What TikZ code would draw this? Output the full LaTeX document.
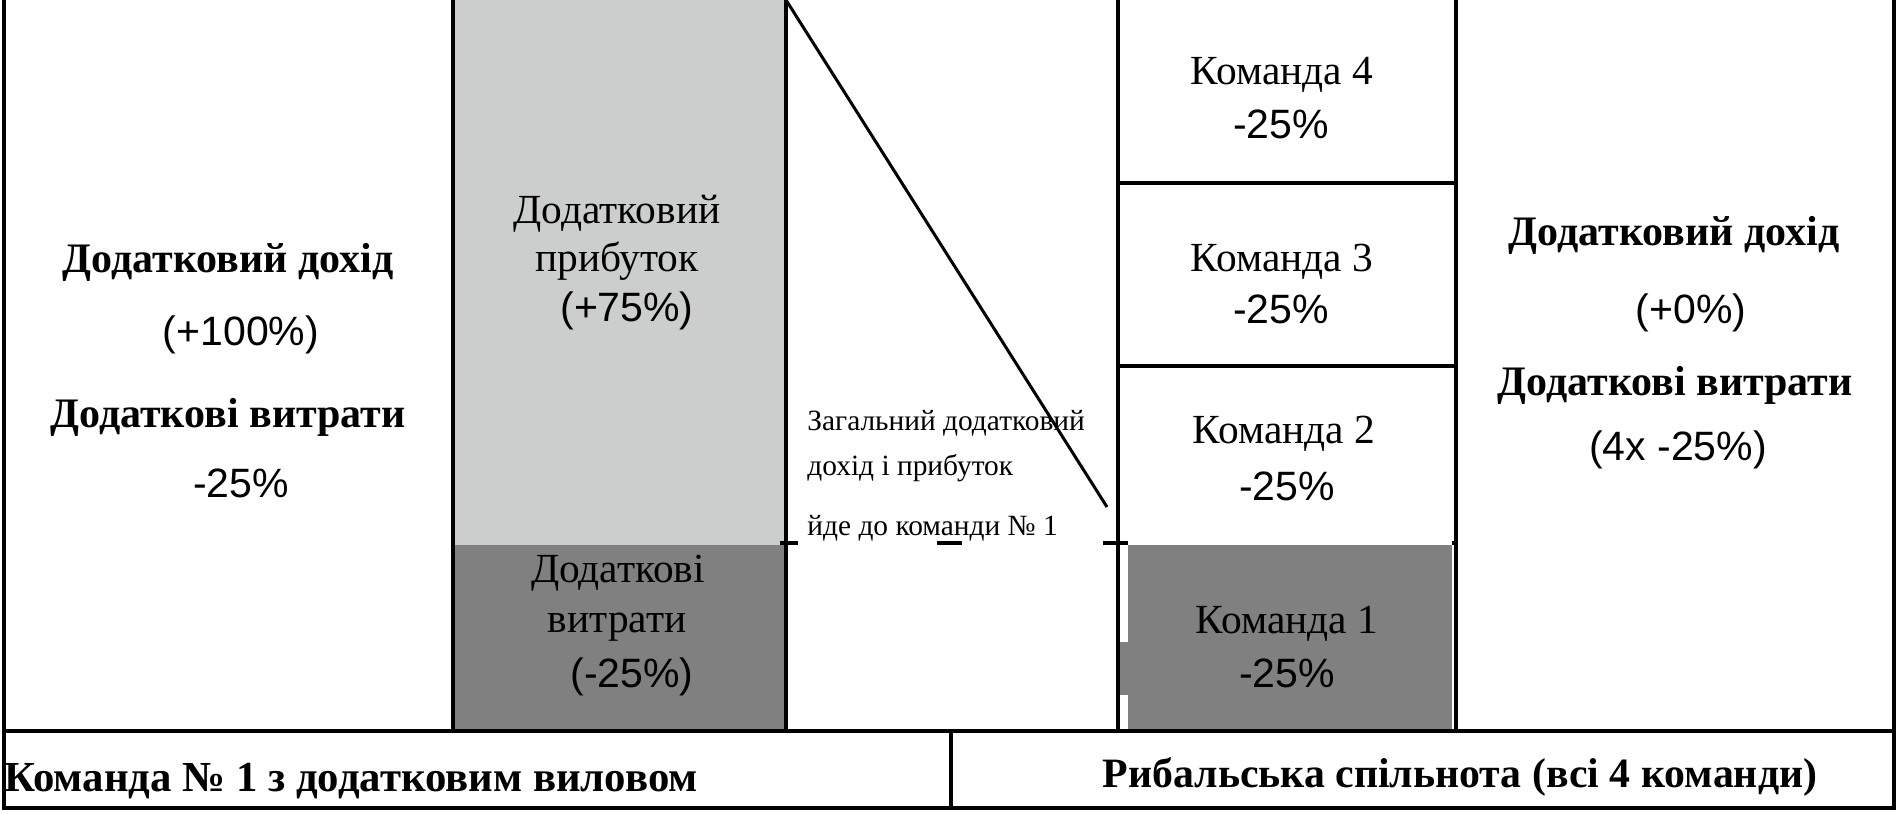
\documentclass[tikz,border=0pt]{standalone}
\usepackage{fontspec}
\setmainfont{Liberation Serif}
\setsansfont{Liberation Sans}
\usepackage{tikz}
\usepackage{xcolor}
\definecolor{gainfill}{RGB}{204,206,205}
\definecolor{costfill}{RGB}{128,128,128}

\begin{document}
\begin{tikzpicture}[x=0.5pt, y=-0.5pt,
  frame/.style={line width=2pt, black},
  txt/.style={inner sep=0pt, anchor=base, font=\fontsize{20.7}{24}\selectfont},
  pct/.style={inner sep=0pt, anchor=base, font=\sffamily\fontsize{20.5}{24}\selectfont},
  head/.style={inner sep=0pt, anchor=base, font=\bfseries\fontsize{21}{25}\selectfont},
  note/.style={inner sep=0pt, anchor=base west, font=\fontsize{14.7}{18}\selectfont},
  foot/.style={inner sep=0pt, anchor=base, font=\bfseries\fontsize{20.9}{24}\selectfont}]
  \useasboundingbox (0,0) rectangle (1898,813);
  % fills
  \fill[gainfill] (453,0) rectangle (786,545);
  \fill[costfill] (453,545) rectangle (786,731);
  \fill[costfill] (1128,545) rectangle (1452,731);
  \fill[costfill] (1120,642) rectangle (1450,695);
  % table lines
  \draw[frame] (4,0) -- (4,808) -- (1894,808) -- (1894,0);
  \draw[frame] (4,731) -- (1894,731);
  \draw[frame] (951,731) -- (951,808);
  \foreach \xc in {453,786,1118,1456}
    \draw[frame] (\xc,0) -- (\xc,731);
  \draw[frame] (1118,183) -- (1456,183);
  \draw[frame] (1118,366) -- (1456,366);
  \foreach \xa/\xb in {780/798,937/962,1103/1128,1452/1456}
    \draw[frame] (\xa,543) -- (\xb,543);
  % diagonal
  \coordinate (diagtop) at (786,0);
  \coordinate (diagend) at (1107,507);
  \draw[line width=1.5pt] (diagtop) -- (diagend);
  % left column
  \node[head] (incomeL) at (228,272) {Додатковий дохід};
  \node[pct] (incomeLv) at (241,345) {(+100\%)};
  \node[head] (costL) at (228,427) {Додаткові витрати};
  \node[pct] (costLv) at (241,497) {-25\%};
  % grey column
  \node[txt] (profit1) at (617,223) {Додатковий};
  \node[txt] (profit2) at (617,271) {прибуток};
  \node[pct] (profitv) at (627,321) {(+75\%)};
  \node[txt] (cost1) at (618,582) {Додаткові};
  \node[txt] (cost2) at (617,632) {витрати};
  \node[pct] (costv) at (632,687) {(-25\%)};
  % middle column
  \node[note] (total1) at (807,430) {Загальний додатковий};
  \node[note] (total2) at (807,475) {дохід і прибуток};
  \node[note] (total3) at (807,535) {йде до команди № 1};
  % teams
  \node[txt] (team4) at (1282,84) {Команда 4};
  \node[pct] (team4v) at (1281,139) {-25\%};
  \node[txt] (team3) at (1282,271) {Команда 3};
  \node[pct] (team3v) at (1281,323) {-25\%};
  \node[txt] (team2) at (1284,443) {Команда 2};
  \node[pct] (team2v) at (1287,500) {-25\%};
  \node[txt] (team1) at (1287,633) {Команда 1};
  \node[pct] (team1v) at (1287,687) {-25\%};
  % right column
  \node[head] (incomeR) at (1674,245) {Додатковий дохід};
  \node[pct] (incomeRv) at (1691,323) {(+0\%)};
  \node[head] (costR) at (1675,395) {Додаткові витрати};
  \node[pct] (costRv) at (1678,460) {(4x -25\%)};
  % bottom row
  \node[foot, anchor=base west, font=\bfseries\fontsize{21.4}{24}\selectfont] (teamone) at (4,791) {Команда № 1 з додатковим виловом};
  \node[foot] (community) at (1460,787) {Рибальська спільнота (всі 4 команди)};
\end{tikzpicture}
\end{document}
